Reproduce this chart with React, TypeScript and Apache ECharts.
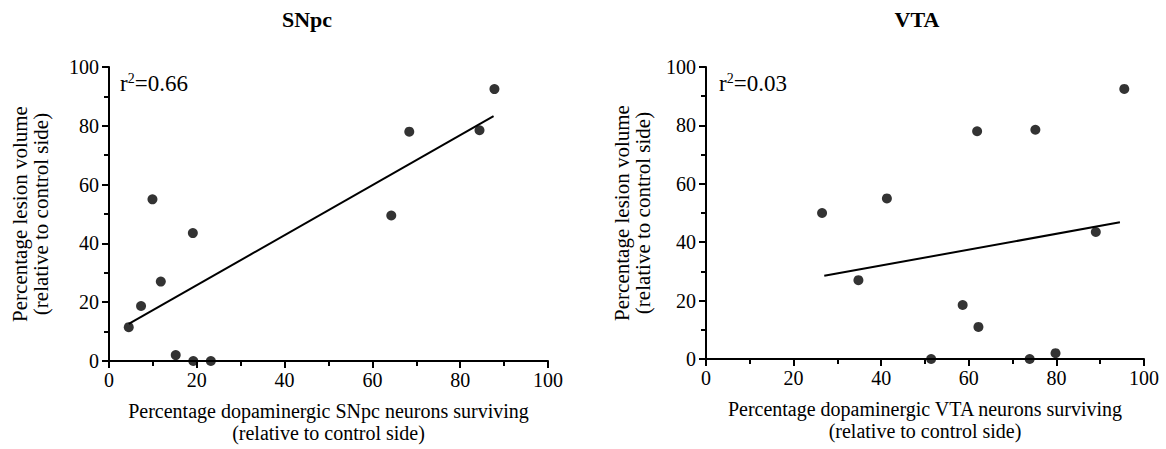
import React, { useEffect, useRef } from "react";
import * as echarts from "echarts";

// SNpc panel
const snpcSurvival = [4.5, 7.3, 9.9, 11.8, 15.2, 19.1, 19.2, 23.2, 64.3, 68.4, 84.4, 87.8];
const snpcLesion = [11.5, 18.7, 55, 27, 2, 43.5, 0, 0, 49.5, 78, 78.5, 92.5];
const snpcFitX = [4.5, 87.6];
const snpcFitY = [12.6, 83.3];
const snpcR2 = "0.66";

// VTA panel
const vtaSurvival = [26.5, 34.8, 41.3, 51.4, 58.6, 61.9, 62.2, 73.9, 75.2, 79.8, 89.0, 95.5];
const vtaLesion = [50, 27, 55, 0, 18.5, 78, 11, 0, 78.5, 2, 43.5, 92.5];
const vtaFitX = [27, 94.5];
const vtaFitY = [28.5, 46.8];
const vtaR2 = "0.03";

const titles = ["SNpc", "VTA"];
const xNames = [
  "Percentage dopaminergic SNpc neurons surviving\n(relative to control side)",
  "Percentage dopaminergic VTA neurons surviving\n(relative to control side)",
];
const yName = "Percentage lesion volume\n(relative to control side)";

const FONT = "Liberation Serif";

function pairs(xs: number[], ys: number[]) {
  return xs.map((x, i) => [x, ys[i]]);
}

export default function App() {
  const ref = useRef<HTMLDivElement>(null);
  useEffect(() => {
    if (!ref.current) return;
    const chart = echarts.init(ref.current, null, { renderer: "svg" });
    const axisCommon = {
      type: "value" as const,
      min: 0,
      max: 100,
      interval: 20,
      splitLine: { show: false },
      axisLine: { show: true, onZero: false, lineStyle: { color: "#000", width: 2 } },
      axisTick: { show: true, inside: false, length: 7, lineStyle: { color: "#000", width: 2 } },
      minorTick: { show: true, splitNumber: 2, length: 5, lineStyle: { color: "#000", width: 2 } },
      axisLabel: { color: "#000", fontFamily: FONT, fontSize: 20, margin: 10 },
    };
    const xNameStyle = { color: "#000", fontFamily: FONT, fontSize: 20, lineHeight: 22 };
    const yNameStyle = { color: "#000", fontFamily: FONT, fontSize: 21, lineHeight: 21 };
    const grids = [
      { left: 109, top: 67, width: 439, height: 294, outerBoundsMode: "none", containLabel: false },
      { left: 706, top: 67, width: 438, height: 292, outerBoundsMode: "none", containLabel: false },
    ];
    const titleStyle = { fontFamily: FONT, fontSize: 22, fontWeight: "bold", color: "#000" };
    const rich = {
      b: { fontFamily: FONT, fontSize: 23, fill: "#000" },
      s: { fontFamily: FONT, fontSize: 14, fill: "#000", verticalAlign: "top", padding: [0, 0, 10, 0] },
    };
    const option: any = {
      animation: false,
      backgroundColor: "#fff",
      textStyle: { fontFamily: FONT, color: "#000" },
      title: [
        { text: titles[0], left: 302, top: 3, textAlign: "center", textStyle: titleStyle },
        { text: titles[1], left: 912, top: 3, textAlign: "center", textStyle: titleStyle },
      ],
      grid: grids,
      xAxis: [
        {
          ...axisCommon,
          axisLabel: { ...axisCommon.axisLabel, margin: 9 },
          gridIndex: 0,
          name: xNames[0],
          nameLocation: "middle",
          nameGap: 39,
          nameTextStyle: xNameStyle,
        },
        {
          ...axisCommon,
          axisLabel: { ...axisCommon.axisLabel, margin: 9 },
          gridIndex: 1,
          name: xNames[1],
          nameLocation: "middle",
          nameGap: 39,
          nameTextStyle: xNameStyle,
        },
      ],
      yAxis: [
        { ...axisCommon, gridIndex: 0, name: yName, nameLocation: "middle", nameGap: 58, nameRotate: 90, nameTextStyle: yNameStyle },
        { ...axisCommon, gridIndex: 1, name: yName, nameLocation: "middle", nameGap: 53, nameRotate: 90, nameTextStyle: yNameStyle },
      ],
      graphic: [
        {
          type: "text",
          x: 120,
          y: 83,
          style: { text: "{b|r}{s|2}{b|=" + snpcR2 + "}", verticalAlign: "middle", rich },
        },
        {
          type: "text",
          x: 719,
          y: 83,
          style: { text: "{b|r}{s|2}{b|=" + vtaR2 + "}", verticalAlign: "middle", rich },
        },
      ],
      series: [
        {
          type: "scatter",
          xAxisIndex: 0,
          yAxisIndex: 0,
          symbolSize: 10,
          itemStyle: { color: "#000" },
          data: pairs(snpcSurvival, snpcLesion),
        },
        {
          type: "line",
          xAxisIndex: 0,
          yAxisIndex: 0,
          showSymbol: false,
          symbol: "none",
          lineStyle: { color: "#000", width: 2 },
          data: pairs(snpcFitX, snpcFitY),
        },
        {
          type: "scatter",
          xAxisIndex: 1,
          yAxisIndex: 1,
          symbolSize: 10,
          itemStyle: { color: "#000" },
          data: pairs(vtaSurvival, vtaLesion),
        },
        {
          type: "line",
          xAxisIndex: 1,
          yAxisIndex: 1,
          showSymbol: false,
          symbol: "none",
          lineStyle: { color: "#000", width: 2 },
          data: pairs(vtaFitX, vtaFitY),
        },
      ],
    };
    chart.setOption(option);
    return () => chart.dispose();
  }, []);
  return (
    <div
      ref={ref}
      style={{ position: "absolute", left: 0, top: 0, width: 1166, height: 449, background: "#fff" }}
    />
  );
}
